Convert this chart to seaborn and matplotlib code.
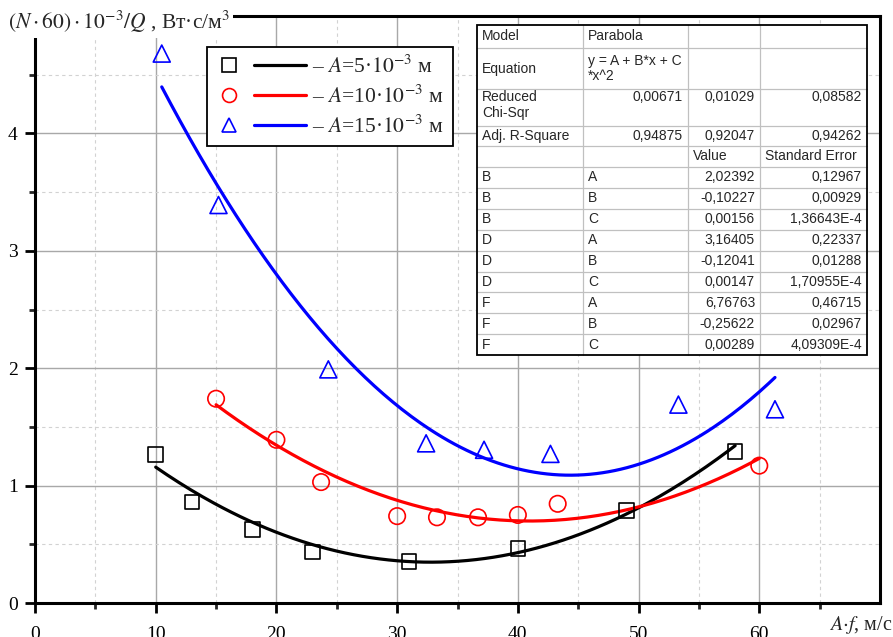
import numpy as np
import pandas as pd
import matplotlib
matplotlib.use("Agg")
import matplotlib.pyplot as plt
import seaborn as sns
from matplotlib.lines import Line2D
from matplotlib.patches import Rectangle
from matplotlib.legend_handler import HandlerBase
from matplotlib.transforms import Affine2D

# ---- measured data: A*f (m/s) vs (N*60)*1e-3/Q ----
x_a5 = [10.0, 13.0, 18.0, 23.0, 31.0, 40.0, 49.0, 58.0]
y_a5 = [1.265, 0.86, 0.625, 0.435, 0.355, 0.465, 0.79, 1.29]

x_a10 = [15.0, 20.0, 23.7, 30.0, 33.3, 36.7, 40.0, 43.3, 60.0]
y_a10 = [1.74, 1.39, 1.03, 0.74, 0.73, 0.73, 0.75, 0.845, 1.17]

x_a15 = [10.5, 15.2, 24.3, 32.4, 37.2, 42.7, 53.3, 61.3]
y_a15 = [4.68, 3.39, 1.99, 1.36, 1.305, 1.27, 1.69, 1.65]

series_labels = [r"– $A$=5·$10^{-3}$ м", r"– $A$=10·$10^{-3}$ м", r"– $A$=15·$10^{-3}$ м"]
series_colors = ["#000000", "#ff0000", "#0000ff"]
series_markers = ["s", "o", "^"]

# ---- parabolic fit y = A + B*x + C*x^2 ----
fit_names = ["B", "D", "F"]
fit_A = [2.02392, 3.16405, 6.76763]
fit_B = [-0.10227, -0.12041, -0.25622]
fit_C = [0.00156, 0.00147, 0.00289]
err_A = [0.12967, 0.22337, 0.46715]
err_B = [0.00929, 0.01288, 0.02967]
err_C = [1.36643e-4, 1.70955e-4, 4.09309e-4]
chi_sqr = [0.00671, 0.01029, 0.08582]
adj_r2 = [0.94875, 0.92047, 0.94262]

x_ticks = [0, 10, 20, 30, 40, 50, 60]
y_ticks = [0, 1, 2, 3, 4]

W, H = 893, 637
sns.set_style("ticks")
plt.rcParams["font.family"] = ["Liberation Serif", "DejaVu Serif"]
plt.rcParams["mathtext.fontset"] = "stix"

fig = plt.figure(figsize=(W / 100, H / 100), dpi=100)
ax = fig.add_axes([35 / W, 34 / H, 845 / W, 587 / H])
# pixel coordinates (origin top-left) for annotations
pix = Affine2D().scale(1 / W, -1 / H).translate(0, 1) + fig.transFigure

xs_all = [x_a5, x_a10, x_a15]
ys_all = [y_a5, y_a10, y_a15]
handles = []
for i in range(3):
    df = pd.DataFrame({"x": xs_all[i], "y": ys_all[i]})
    xf = np.linspace(min(xs_all[i]), max(xs_all[i]), 200)
    fit = pd.DataFrame({"x": xf, "y": fit_A[i] + fit_B[i] * xf + fit_C[i] * xf ** 2})
    sns.lineplot(data=fit, x="x", y="y", ax=ax, color=series_colors[i], lw=2.3,
                 estimator=None, sort=True, zorder=3)
    msize = {"s": 110, "o": 140, "^": 150}[series_markers[i]]
    sns.scatterplot(data=df, x="x", y="y", ax=ax, marker=series_markers[i], s=msize,
                    facecolor="none", edgecolor=series_colors[i], linewidth=1.2, zorder=4)
    handles.append((Line2D([], [], ls="none", marker=series_markers[i], ms=10, mfc="none",
                           mec=series_colors[i], mew=1.2),
                    Line2D([], [], color=series_colors[i], lw=2.3)))

ax.set_xlim(0, 70)
ax.set_ylim(0, 5)
ax.set_xlabel("")
ax.set_ylabel("")
ax.set_xticks(x_ticks)
ax.set_xticks(np.arange(5, 70, 10), minor=True)
ax.set_yticks(y_ticks)
ax.set_yticks(np.arange(0.5, 5, 1.0), minor=True)
ax.set_axisbelow(True)
ax.grid(which="major", color="#a8a8a8", lw=1.0, ls="-")
ax.grid(which="minor", color="#d2d2d2", lw=0.8, ls=(0, (3, 3)))
for s in ax.spines.values():
    s.set_linewidth(2.2)
    s.set_color("black")
ax.tick_params(which="major", direction="out", length=7.5, width=2.0, labelsize=14,
               pad=5, colors="black")
ax.tick_params(axis="x", which="major", pad=9)
ax.tick_params(which="minor", direction="out", length=4.0, width=2.0)


class MarkerThenLine(HandlerBase):
    def create_artists(self, legend, orig_handle, xdescent, ydescent, width, height,
                       fontsize, trans):
        mk, ln = orig_handle
        yc = height / 2 - ydescent
        x0 = -xdescent
        m = Line2D([x0 + 0.15 * width], [yc], ls="none", marker=mk.get_marker(),
                   ms=mk.get_markersize(), mfc="none", mec=mk.get_markeredgecolor(),
                   mew=mk.get_markeredgewidth())
        l = Line2D([x0 + 0.42 * width, x0 + width], [yc, yc], color=ln.get_color(),
                   lw=ln.get_linewidth())
        m.set_transform(trans)
        l.set_transform(trans)
        return [m, l]


leg = ax.legend(handles, series_labels, handler_map={tuple: MarkerThenLine()},
                loc="upper left", bbox_to_anchor=(207 / W, 1 - 47 / H),
                bbox_transform=fig.transFigure, borderaxespad=0, fontsize=15.5,
                handlelength=4.2, handletextpad=0.3, borderpad=0.4, labelspacing=0.36,
                fancybox=False, framealpha=1, edgecolor="black")
leg.get_frame().set_linewidth(1.3)

# axis captions
fig.text(8, 22, r"$(N\cdot60)\cdot10^{-3}/Q$ , Вт·с/м$^3$", transform=pix, fontsize=15.5,
         ha="left", va="center", bbox=dict(facecolor="white", edgecolor="none", pad=2),
         zorder=10)
fig.text(892, 625, r"$A{\cdot}f$, м/с", transform=pix, fontsize=14.5, ha="right", va="center")


# ---- fit summary table ----
def fmt(v):
    if abs(v) < 1e-3:
        m, e = f"{v:.5E}".split("E")
        return f"{m}E{int(e)}".replace(".", ",")
    return f"{v:.5f}".replace(".", ",")


rows = [
    ["Model", "Parabola", "", ""],
    ["Equation", "y = A + B*x + C\n*x^2", "", ""],
    ["Reduced\nChi-Sqr"] + [fmt(v) for v in chi_sqr],
    ["Adj. R-Square"] + [fmt(v) for v in adj_r2],
    ["", "", "Value", "Standard Error"],
]
for name, a, b, c, ea, eb, ec in zip(fit_names, fit_A, fit_B, fit_C, err_A, err_B, err_C):
    rows.append([name, "A", fmt(a), fmt(ea)])
    rows.append([name, "B", fmt(b), fmt(eb)])
    rows.append([name, "C", fmt(c), fmt(ec)])

col_edges = [477, 583, 688, 760, 867]
row_edges = [25, 48, 89, 126, 146, 167] + [167 + 20.9 * k for k in range(1, 10)]
tfont = dict(family=["Liberation Sans", "DejaVu Sans"], size=10)

fig.add_artist(Rectangle((col_edges[0], row_edges[0]), col_edges[-1] - col_edges[0],
                         row_edges[-1] - row_edges[0], transform=pix, facecolor="white",
                         edgecolor="none", zorder=5))
for xe in col_edges[1:-1]:
    fig.add_artist(Line2D([xe, xe], [row_edges[0], row_edges[-1]], transform=pix,
                          color="#c0c0c0", lw=0.9, zorder=6))
for ye in row_edges[1:-1]:
    fig.add_artist(Line2D([col_edges[0], col_edges[-1]], [ye, ye], transform=pix,
                          color="#c0c0c0", lw=0.9, zorder=6))
fig.add_artist(Rectangle((col_edges[0], row_edges[0]), col_edges[-1] - col_edges[0],
                         row_edges[-1] - row_edges[0], transform=pix, facecolor="none",
                         edgecolor="black", lw=1.3, zorder=7))

for r, row in enumerate(rows):
    top, bot = row_edges[r], row_edges[r + 1]
    yc = (top + bot) / 2
    for c, txt in enumerate(row):
        if not txt:
            continue
        numeric = txt[0].isdigit() or txt[0] == "-"
        y = yc
        if r == 2 and c > 0:
            y = 97
        elif r == 2:
            y = 105
        if numeric:
            fig.text(col_edges[c + 1] - 5, y, txt, transform=pix, ha="right", va="center",
                     zorder=8, **tfont)
        else:
            fig.text(col_edges[c] + 5, y, txt, transform=pix, ha="left", va="center",
                     linespacing=1.1, zorder=8, **tfont)

fig.savefig("out.png", dpi=100)
